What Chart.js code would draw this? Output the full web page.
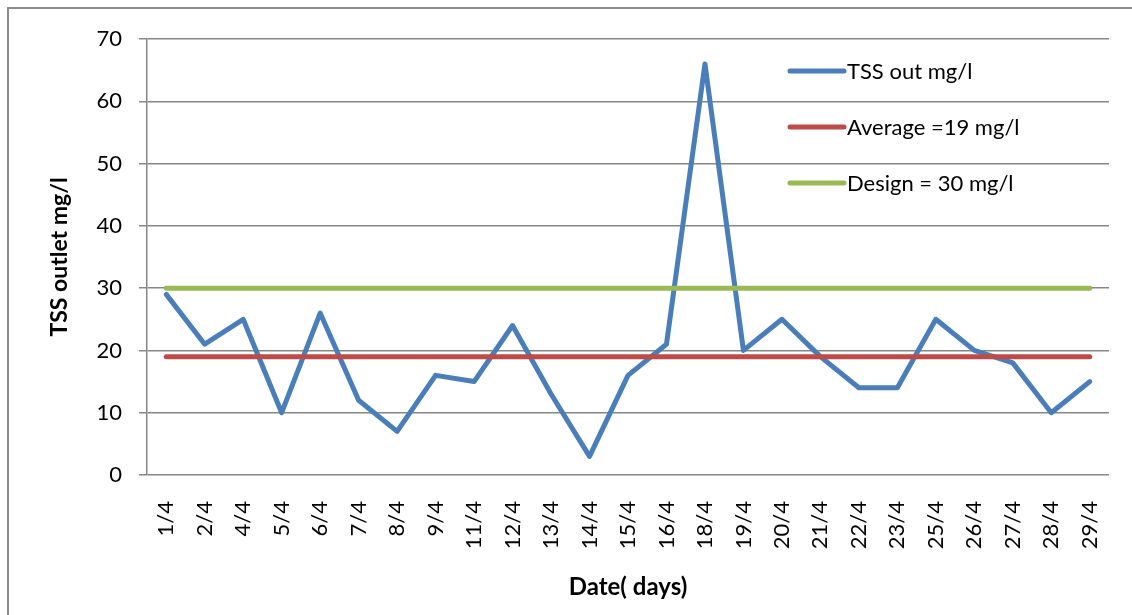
<!DOCTYPE html>
<html>
<head>
<meta charset="utf-8">
<script src="https://cdn.jsdelivr.net/npm/chart.js@4"></script>
<style>
  html, body { margin: 0; padding: 0; background: #ffffff; }
  #wrap { position: relative; width: 1132px; height: 615px; }
  canvas { display: block; }
</style>
</head>
<body>
<div id="wrap"><canvas id="chart" width="1132" height="615"></canvas></div>
<script>
// Sampling dates (day/month)
const categories = ['1/4', '2/4', '4/4', '5/4', '6/4', '7/4', '8/4', '9/4', '11/4', '12/4', '13/4', '14/4', '15/4',
  '16/4', '18/4', '19/4', '20/4', '21/4', '22/4', '23/4', '25/4', '26/4', '27/4', '28/4', '29/4'];

// Measured TSS at the outlet, mg/l
const tssOut = [29, 21, 25, 10, 26, 12, 7, 16, 15, 24, 13, 3, 16, 21, 66, 20, 25, 19, 14, 14, 25, 20, 18, 10, 15];

// Average of the period, mg/l
const averageLine = [19, 19, 19, 19, 19, 19, 19, 19, 19, 19, 19, 19, 19, 19, 19, 19, 19, 19, 19, 19, 19, 19, 19, 19, 19];

// Design limit, mg/l
const designLine = [30, 30, 30, 30, 30, 30, 30, 30, 30, 30, 30, 30, 30, 30, 30, 30, 30, 30, 30, 30, 30, 30, 30, 30, 30];

const seriesNames = ['TSS out mg/l', 'Average =19 mg/l', 'Design = 30 mg/l'];
const yTicks = [0, 10, 20, 30, 40, 50, 60, 70];

const FONT = 'Lato, "Open Sans", "Liberation Sans", sans-serif';
const GRID = '#868686';

// Frame around the chart (top and left edges visible)
const framePlugin = {
  id: 'frame',
  beforeDraw(chart) {
    const ctx = chart.ctx;
    ctx.save();
    ctx.strokeStyle = '#8c8c8c';
    ctx.lineWidth = 2;
    ctx.beginPath();
    ctx.moveTo(8, chart.height + 5);
    ctx.lineTo(8, 8);
    ctx.lineTo(chart.width + 5, 8);
    ctx.stroke();
    ctx.restore();
  }
};

// Legend drawn inside the plot, top right, one entry per row
const legendPlugin = {
  id: 'insideLegend',
  afterDatasetsDraw(chart) {
    const ctx = chart.ctx;
    const area = chart.chartArea;
    const x0 = area.right - 319;
    const rowStart = area.top + 32;
    const rowGap = 56;
    ctx.save();
    ctx.font = '22px ' + FONT;
    ctx.textBaseline = 'middle';
    ctx.textAlign = 'left';
    chart.data.datasets.forEach((ds, i) => {
      const y = rowStart + i * rowGap;
      ctx.strokeStyle = ds.borderColor;
      ctx.lineWidth = 5;
      ctx.lineCap = 'round';
      ctx.beginPath();
      ctx.moveTo(x0, y);
      ctx.lineTo(x0 + 54, y);
      ctx.stroke();
      ctx.fillStyle = '#000000';
      ctx.fillText(ds.label, x0 + 57, y + 1);
    });
    ctx.restore();
  }
};

new Chart(document.getElementById('chart'), {
  type: 'line',
  data: {
    labels: categories,
    datasets: [
      { label: seriesNames[0], data: tssOut, borderColor: '#4a7ebb', order: 3 },
      { label: seriesNames[1], data: averageLine, borderColor: '#be4b48', order: 2 },
      { label: seriesNames[2], data: designLine, borderColor: '#98b954', order: 1 }
    ].map(d => Object.assign(d, {
      borderWidth: 5,
      pointRadius: 0,
      pointHoverRadius: 0,
      tension: 0,
      fill: false,
      borderCapStyle: 'round',
      borderJoinStyle: 'round'
    }))
  },
  options: {
    responsive: false,
    animation: false,
    events: [],
    layout: { autoPadding: false, padding: { left: 0, top: 39, right: 23, bottom: 0 } },
    plugins: {
      legend: { display: false },
      tooltip: { enabled: false },
      title: { display: false }
    },
    scales: {
      x: {
        offset: true,
        grid: { display: false, drawTicks: false },
        border: { display: false },
        ticks: {
          autoSkip: false,
          minRotation: 90,
          maxRotation: 90,
          padding: 26,
          color: '#000000',
          font: { family: FONT, size: 22 }
        },
        title: {
          display: true,
          text: 'Date( days)',
          color: '#000000',
          font: { family: FONT, size: 24, weight: 'bold' },
          padding: { top: 0, bottom: 13 }
        },
        afterFit(scale) {
          scale.height = 615 - 475;
          scale.paddingLeft = 0;
          scale.paddingRight = 0;
        }
      },
      y: {
        min: 0,
        max: 70,
        afterBuildTicks(scale) { scale.ticks = yTicks.map(v => ({ value: v })); },
        grid: {
          color: GRID,
          lineWidth: 1.5,
          tickLength: 8,
          drawTicks: true
        },
        border: { display: true, color: GRID, width: 1.5 },
        ticks: {
          padding: 17,
          color: '#000000',
          font: { family: FONT, size: 22 }
        },
        title: {
          display: true,
          text: 'TSS outlet mg/l',
          color: '#000000',
          font: { family: FONT, size: 23, weight: 'bold' },
          padding: { top: 46, bottom: 0 }
        },
        afterFit(scale) {
          scale.width = 147;
          scale.paddingTop = 0;
          scale.paddingBottom = 0;
        }
      }
    }
  },
  plugins: [framePlugin, legendPlugin]
});
</script>
</body>
</html>
